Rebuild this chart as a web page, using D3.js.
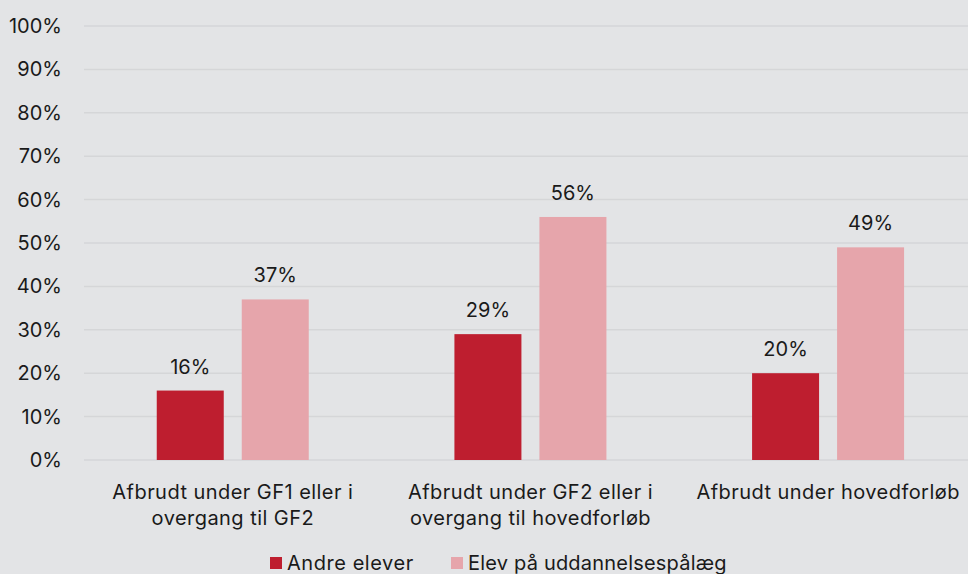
<!DOCTYPE html>
<html><head><meta charset="utf-8">
<script src="https://cdn.jsdelivr.net/npm/d3@7"></script>
<style>body{margin:0;background:#e3e4e6;}svg{display:block;font-family:Inter,"Noto Sans",sans-serif;}</style>
</head><body><svg id="c" width="968" height="574"></svg>
<script>
const categories = [["Afbrudt under GF1 eller i","overgang til GF2"],["Afbrudt under GF2 eller i","overgang til hovedforløb"],["Afbrudt under hovedforløb"]];
const seriesNames = ["Andre elever","Elev på uddannelsespålæg"];
const andreElever = [16,29,20];
const elevPaa = [37,56,49];
const yTicks = [0,10,20,30,40,50,60,70,80,90,100];
const colors = ["#be1e2f","#e6a5ab"];

const svg = d3.select("#c");
svg.append("rect").attr("width",968).attr("height",574).attr("fill","#e3e4e6");
const x0 = d3.scaleBand().domain(d3.range(categories.length)).range([84,977]);
const x1 = d3.scaleBand().domain([0,1]).range([72.75, 72.75+152]).paddingInner(18/85);
const y = d3.scaleLinear().domain([0,100]).range([460,26]);

svg.append("g").selectAll("line").data(yTicks).join("line")
  .attr("x1",84).attr("x2",968).attr("y1",d=>y(d)).attr("y2",d=>y(d))
  .attr("stroke","#d5d6d8").attr("stroke-width",1.5);
svg.append("g").selectAll("text").data(yTicks).join("text")
  .attr("x",62).attr("y",d=>y(d)).attr("dy","0.35em").attr("text-anchor","end")
  .attr("font-size",20).attr("fill","#1a1a1a").text(d=>d+"%");

const data = [andreElever, elevPaa];
data.forEach((vals,s)=>{
  const g = svg.append("g");
  g.selectAll("text").data(vals).join("text")
    .attr("x",(d,i)=>x0(i)+x1(s)+x1.bandwidth()/2).attr("y",d=>y(d)-17)
    .attr("text-anchor","middle").attr("font-size",20).attr("fill","#1a1a1a").text(d=>d+"%");
  g.selectAll("rect").data(vals).join("rect")
    .attr("x",(d,i)=>x0(i)+x1(s)).attr("width",x1.bandwidth())
    .attr("y",d=>y(d)).attr("height",d=>y(0)-y(d)).attr("fill",colors[s]);
});

const cl = svg.append("g");
categories.forEach((lines,i)=>{
  const cx = x0(i)+x0.bandwidth()/2;
  const t = cl.append("text").attr("x",cx).attr("y",499)
    .attr("text-anchor","middle").attr("font-size",20).attr("letter-spacing",0.45).attr("fill","#1a1a1a");
  lines.forEach((l,j)=>t.append("tspan").attr("x",cx).attr("dy",j?26:0).text(l));
});

const leg = svg.append("g");
const legX = [270,451];
const legSpacing = [0.55,0.2];
seriesNames.forEach((n,i)=>{
  leg.append("rect").attr("x",legX[i]).attr("y",557).attr("width",12).attr("height",12).attr("fill",colors[i]);
  leg.append("text").attr("x",legX[i]+17).attr("y",570).attr("font-size",20).attr("letter-spacing",legSpacing[i]).attr("fill","#1a1a1a").text(n);
});
</script></body></html>
